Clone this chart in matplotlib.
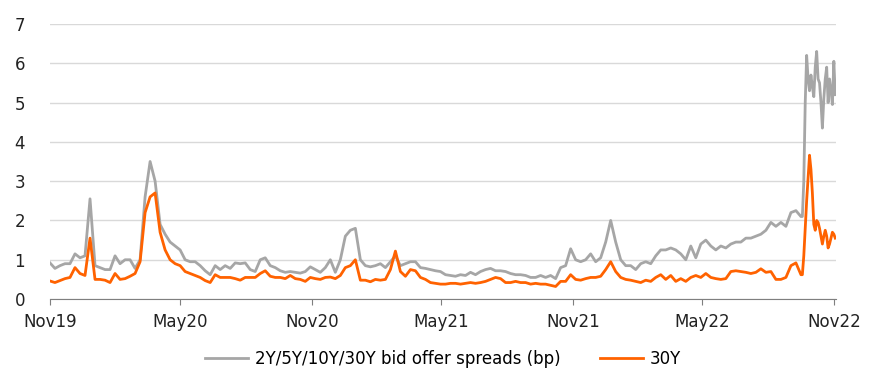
import numpy as np
import pandas as pd
import matplotlib
matplotlib.use("Agg")
import matplotlib.pyplot as plt
import matplotlib.dates as mdates

# weekly readings, Nov 2019 -> mid Oct 2022
weekly_start = "2019-11-01"
spread_all_weekly = [
    0.92, 0.78, 0.85, 0.90, 0.90, 1.15, 1.05, 1.10, 2.55, 0.85,
    0.80, 0.75, 0.75, 1.10, 0.90, 1.00, 1.00, 0.78, 1.00, 2.60,
    3.50, 3.00, 1.90, 1.65, 1.45, 1.35, 1.25, 1.00, 0.95, 0.95,
    0.85, 0.72, 0.62, 0.85, 0.75, 0.85, 0.78, 0.92, 0.90, 0.92,
    0.75, 0.70, 1.00, 1.05, 0.85, 0.80, 0.72, 0.68, 0.70, 0.68,
    0.66, 0.70, 0.82, 0.75, 0.68, 0.80, 1.00, 0.68, 1.00, 1.60,
    1.75, 1.80, 1.00, 0.85, 0.82, 0.85, 0.90, 0.80, 0.95, 1.10,
    0.85, 0.90, 0.95, 0.95, 0.80, 0.78, 0.75, 0.72, 0.70, 0.62,
    0.60, 0.58, 0.62, 0.60, 0.68, 0.62, 0.70, 0.75, 0.78, 0.72,
    0.72, 0.70, 0.65, 0.62, 0.62, 0.60, 0.55, 0.55, 0.60, 0.55,
    0.60, 0.52, 0.80, 0.85, 1.28, 1.00, 0.95, 1.00, 1.15, 0.95,
    1.05, 1.45, 2.00, 1.45, 1.00, 0.85, 0.85, 0.75, 0.90, 0.95,
    0.90, 1.10, 1.25, 1.25, 1.30, 1.25, 1.15, 1.00, 1.35, 1.05,
    1.40, 1.50, 1.35, 1.25, 1.35, 1.30, 1.40, 1.45, 1.45, 1.55,
    1.55, 1.60, 1.65, 1.75, 1.95, 1.85, 1.95, 1.85, 2.20, 2.25,
    2.10,
]
spread_30y_weekly = [
    0.46, 0.42, 0.47, 0.52, 0.55, 0.80, 0.65, 0.60, 1.55, 0.50,
    0.50, 0.48, 0.42, 0.65, 0.50, 0.52, 0.58, 0.65, 0.95, 2.20,
    2.60, 2.70, 1.70, 1.25, 1.00, 0.90, 0.85, 0.70, 0.65, 0.60,
    0.55, 0.47, 0.42, 0.62, 0.55, 0.55, 0.55, 0.52, 0.48, 0.55,
    0.55, 0.55, 0.65, 0.72, 0.58, 0.55, 0.55, 0.52, 0.60, 0.52,
    0.50, 0.45, 0.55, 0.52, 0.50, 0.55, 0.56, 0.52, 0.60, 0.80,
    0.85, 1.00, 0.48, 0.48, 0.44, 0.50, 0.48, 0.50, 0.75, 1.22,
    0.70, 0.58, 0.75, 0.72, 0.55, 0.50, 0.42, 0.40, 0.38, 0.38,
    0.40, 0.40, 0.38, 0.40, 0.42, 0.40, 0.42, 0.45, 0.50, 0.55,
    0.52, 0.42, 0.42, 0.45, 0.42, 0.42, 0.38, 0.40, 0.38, 0.38,
    0.35, 0.32, 0.45, 0.45, 0.62, 0.50, 0.48, 0.52, 0.55, 0.55,
    0.58, 0.75, 0.95, 0.70, 0.55, 0.50, 0.48, 0.45, 0.42, 0.48,
    0.45, 0.55, 0.62, 0.50, 0.60, 0.45, 0.52, 0.45, 0.55, 0.60,
    0.55, 0.65, 0.55, 0.52, 0.50, 0.52, 0.70, 0.72, 0.70, 0.68,
    0.65, 0.68, 0.77, 0.68, 0.70, 0.50, 0.50, 0.55, 0.85, 0.92,
    0.62,
]

# every second day for the volatile final stretch
spread_all_tail = [
    2.10, 3.00, 5.00, 6.20, 5.60, 5.30, 5.70, 5.40, 5.15, 5.90,
    6.30, 5.60, 5.50, 5.00, 4.35, 5.10, 5.60, 5.90, 5.00, 5.60,
    5.30, 4.95, 6.05, 5.20,
]
spread_30y_tail = [
    0.62, 1.10, 1.80, 2.50, 3.10, 3.66, 3.30, 2.70, 1.90, 1.75,
    2.00, 1.95, 1.80, 1.60, 1.40, 1.60, 1.75, 1.60, 1.30, 1.40,
    1.55, 1.70, 1.65, 1.55,
]

tick_dates = ["2019-11-01", "2020-05-01", "2020-11-01", "2021-05-01",
              "2021-11-01", "2022-05-01", "2022-11-01"]
tick_labels = ["Nov19", "May20", "Nov20", "May21", "Nov21", "May22", "Nov22"]

weekly_dates = pd.date_range(weekly_start, periods=len(spread_all_weekly), freq="7D")
tail_dates = pd.date_range(weekly_dates[-1] + pd.Timedelta(days=2),
                           periods=len(spread_all_tail), freq="2D")
dates = weekly_dates.append(tail_dates)
spread_all = spread_all_weekly + spread_all_tail
spread_30y = spread_30y_weekly + spread_30y_tail

fig = plt.figure(figsize=(8.69, 3.8), dpi=100)
ax = fig.add_axes([0.0575, 0.213, 0.9045, 0.724])

ax.plot(dates, spread_all, color="#a6a6a6", lw=2.0,
        label="2Y/5Y/10Y/30Y bid offer spreads (bp)", solid_joinstyle="round")
ax.plot(dates, spread_30y, color="#ff6200", lw=2.0, label="30Y",
        solid_joinstyle="round")

ax.set_ylim(0, 7)
ax.set_yticks(range(0, 8))
ax.set_xlim(pd.Timestamp("2019-11-01"), pd.Timestamp("2022-11-04"))
ax.set_xticks(pd.to_datetime(tick_dates))
ax.set_xticklabels(tick_labels)

ax.grid(axis="y", color="#d9d9d9", lw=1)
ax.set_axisbelow(True)
for s in ["top", "right", "left"]:
    ax.spines[s].set_visible(False)
ax.spines["bottom"].set_color("#7f7f7f")
ax.tick_params(axis="y", length=0, pad=18, labelsize=12, labelcolor="#222222")
ax.tick_params(axis="x", length=4, color="#7f7f7f", pad=6, labelsize=12,
               labelcolor="#222222")

ax.legend(loc="upper center", bbox_to_anchor=(0.5, -0.13), ncol=2, frameon=False,
          fontsize=12, handlelength=2.6, columnspacing=2.4, handletextpad=0.4)

fig.savefig("out.png", dpi=100)
